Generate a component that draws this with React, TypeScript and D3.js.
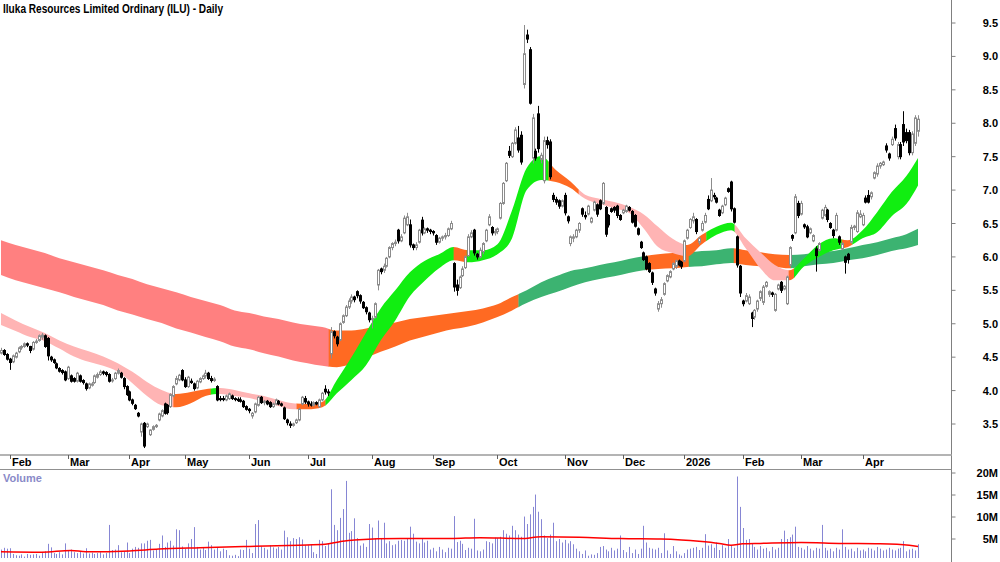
import * as d3 from "d3";

const title = "Iluka Resources Limited Ordinary (ILU) - Daily";

// one row per trading day: open, high, low, close
const candles: [number, number, number, number][] = [
  [4.56,4.64,4.54,4.60],[4.60,4.62,4.52,4.54],[4.54,4.56,4.45,4.47],[4.47,4.49,4.31,4.42],[4.43,4.54,4.41,4.52],
  [4.50,4.58,4.48,4.56],[4.58,4.66,4.56,4.64],[4.64,4.68,4.61,4.66],[4.66,4.72,4.64,4.70],[4.70,4.72,4.65,4.68],
  [4.66,4.67,4.56,4.60],[4.62,4.74,4.60,4.72],[4.72,4.77,4.70,4.74],[4.75,4.84,4.73,4.82],[4.80,4.86,4.76,4.83],
  [4.82,4.84,4.64,4.66],[4.78,4.80,4.45,4.52],[4.50,4.52,4.43,4.46],[4.46,4.48,4.40,4.42],[4.40,4.42,4.32,4.34],
  [4.33,4.35,4.27,4.29],[4.30,4.32,4.24,4.27],[4.28,4.30,4.14,4.16],[4.18,4.37,4.16,4.35],[4.22,4.24,4.12,4.14],
  [4.18,4.20,4.12,4.14],[4.14,4.28,4.12,4.26],[4.22,4.24,4.12,4.14],[4.15,4.17,4.09,4.12],[4.10,4.12,4.00,4.03],
  [4.04,4.12,4.02,4.10],[4.08,4.13,4.06,4.10],[4.12,4.24,4.10,4.22],[4.20,4.27,4.18,4.24],[4.24,4.31,4.22,4.28],
  [4.28,4.30,4.23,4.26],[4.27,4.29,4.21,4.24],[4.24,4.26,4.12,4.14],[4.15,4.19,4.12,4.16],[4.18,4.28,4.16,4.26],
  [4.26,4.33,4.24,4.30],[4.26,4.28,4.18,4.20],[4.18,4.20,4.02,4.06],[4.06,4.08,3.92,3.94],[3.98,4.00,3.84,3.86],
  [3.86,3.88,3.78,3.81],[3.78,3.80,3.71,3.73],[3.66,3.68,3.60,3.62],[3.38,3.52,3.31,3.50],[3.51,3.53,3.14,3.17],
  [3.46,3.52,3.44,3.50],[3.34,3.42,3.32,3.41],[3.42,3.48,3.40,3.46],[3.46,3.50,3.44,3.48],[3.56,3.67,3.54,3.65],
  [3.62,3.72,3.60,3.70],[3.80,3.82,3.64,3.66],[3.78,3.80,3.64,3.67],[3.76,3.96,3.74,3.94],[3.92,4.08,3.90,4.06],
  [4.10,4.22,4.08,4.18],[4.16,4.25,4.14,4.23],[4.30,4.32,4.14,4.16],[4.16,4.20,4.04,4.06],[4.06,4.22,4.04,4.20],
  [4.14,4.18,4.10,4.12],[4.10,4.12,4.00,4.03],[4.04,4.16,4.02,4.14],[4.13,4.20,4.11,4.18],[4.18,4.24,4.16,4.22],
  [4.22,4.31,4.18,4.26],[4.26,4.28,4.16,4.18],[4.18,4.22,4.12,4.15],[4.15,4.20,4.13,4.17],[4.06,4.08,3.84,3.86],
  [3.88,3.92,3.84,3.87],[3.88,3.92,3.84,3.87],[3.86,3.94,3.84,3.92],[3.88,3.97,3.86,3.95],[3.92,3.94,3.86,3.88],
  [3.88,3.90,3.84,3.87],[3.87,3.90,3.83,3.85],[3.86,3.90,3.82,3.84],[3.84,3.86,3.74,3.76],[3.76,3.78,3.70,3.72],
  [3.72,3.74,3.66,3.70],[3.62,3.68,3.58,3.66],[3.68,3.82,3.66,3.80],[3.78,3.92,3.76,3.90],[3.90,3.92,3.80,3.82],
  [3.82,3.86,3.78,3.84],[3.84,3.86,3.78,3.80],[3.82,3.84,3.74,3.76],[3.76,3.82,3.74,3.80],[3.80,3.88,3.78,3.86],
  [3.84,3.86,3.78,3.80],[3.80,3.82,3.76,3.78],[3.74,3.76,3.56,3.58],[3.56,3.58,3.48,3.52],[3.50,3.54,3.44,3.48],
  [3.48,3.52,3.46,3.50],[3.52,3.58,3.50,3.56],[3.56,3.74,3.54,3.72],[3.80,3.92,3.78,3.90],[3.88,3.92,3.80,3.83],
  [3.83,3.85,3.76,3.80],[3.80,3.84,3.76,3.78],[3.78,3.84,3.76,3.82],[3.82,3.84,3.78,3.80],[3.76,3.88,3.74,3.86],
  [3.86,3.98,3.84,3.96],[4.02,4.08,3.94,3.98],[3.98,4.02,3.92,3.97],[4.55,4.95,4.48,4.88],[4.88,4.90,4.78,4.82],
  [4.80,4.82,4.66,4.70],[4.76,5.02,4.74,5.00],[5.02,5.14,5.00,5.12],[5.12,5.28,5.10,5.25],[5.25,5.38,5.22,5.34],
  [5.34,5.44,5.30,5.40],[5.40,5.42,5.32,5.36],[5.48,5.50,5.38,5.42],[5.42,5.44,5.30,5.34],[5.32,5.34,5.22,5.24],
  [5.24,5.26,5.14,5.18],[5.16,5.18,5.02,5.06],[5.06,5.12,4.93,5.08],[5.10,5.32,5.08,5.30],[5.58,5.82,5.50,5.80],
  [5.82,5.84,5.74,5.78],[5.80,5.90,5.76,5.86],[5.86,6.00,5.84,5.98],[6.00,6.16,5.98,6.14],[6.14,6.22,6.10,6.20],
  [6.20,6.26,6.16,6.22],[6.40,6.42,6.20,6.24],[6.24,6.34,6.22,6.30],[6.36,6.62,6.34,6.58],[6.48,6.66,6.46,6.60],
  [6.48,6.56,6.14,6.18],[6.18,6.20,6.10,6.14],[6.14,6.22,6.10,6.18],[6.22,6.42,6.20,6.40],[6.55,6.60,6.32,6.36],
  [6.36,6.44,6.34,6.42],[6.42,6.44,6.36,6.40],[6.40,6.42,6.34,6.38],[6.38,6.40,6.32,6.36],[6.32,6.34,6.18,6.22],
  [6.22,6.30,6.20,6.28],[6.28,6.32,6.24,6.30],[6.30,6.36,6.26,6.32],[6.32,6.44,6.30,6.42],[6.42,6.54,6.40,6.50],
  [5.90,5.92,5.48,5.55],[5.58,5.66,5.42,5.50],[5.54,5.72,5.52,5.70],[5.72,5.86,5.70,5.82],[5.84,6.02,5.82,6.00],
  [6.02,6.34,6.00,6.30],[6.30,6.40,6.28,6.36],[6.40,6.42,6.02,6.06],[6.04,6.06,5.96,6.00],[6.00,6.14,5.98,6.10],
  [6.08,6.22,6.04,6.20],[6.24,6.42,6.22,6.40],[6.48,6.64,6.46,6.60],[6.44,6.46,6.32,6.36],[6.36,6.42,6.32,6.38],
  [6.38,6.44,6.34,6.42],[6.58,6.82,6.56,6.80],[6.80,7.12,6.78,7.10],[7.14,7.42,7.12,7.40],[7.58,7.66,7.48,7.52],
  [7.50,7.72,7.48,7.70],[7.70,7.94,7.68,7.90],[7.78,7.96,7.56,7.60],[7.82,7.88,7.38,7.42],[8.58,9.47,8.52,9.04],
  [9.32,9.40,9.20,9.26],[9.10,9.14,8.28,8.30],[7.48,8.14,7.40,8.08],[7.58,7.62,7.44,7.48],[8.14,8.26,7.56,7.62],
  [7.46,7.56,7.40,7.52],[7.14,7.80,7.10,7.74],[7.74,7.80,7.62,7.68],[7.72,7.76,7.16,7.20],[6.92,6.96,6.82,6.86],
  [6.86,6.90,6.78,6.82],[6.84,6.86,6.72,6.76],[6.76,6.86,6.74,6.84],[6.92,6.96,6.62,6.66],[6.60,6.62,6.50,6.54],
  [6.20,6.32,6.16,6.30],[6.28,6.34,6.22,6.30],[6.30,6.42,6.28,6.40],[6.40,6.52,6.36,6.50],[6.72,6.74,6.60,6.64],
  [6.62,6.68,6.56,6.60],[6.64,6.78,6.62,6.76],[6.52,6.60,6.50,6.58],[6.70,6.84,6.68,6.82],[6.78,6.80,6.60,6.64],
  [6.84,6.86,6.70,6.72],[6.80,7.12,6.78,7.10],[6.74,6.76,6.30,6.34],[6.62,6.64,6.44,6.48],[6.72,6.74,6.66,6.68],
  [6.74,6.76,6.66,6.70],[6.76,6.78,6.58,6.62],[6.62,6.64,6.54,6.56],[6.66,6.72,6.64,6.70],[6.68,6.78,6.66,6.76],
  [6.74,6.76,6.68,6.70],[6.68,6.70,6.50,6.52],[6.62,6.64,6.44,6.46],[6.42,6.44,6.32,6.34],[6.22,6.24,6.12,6.14],
  [6.06,6.08,5.94,5.96],[6.00,6.02,5.80,5.82],[5.90,5.92,5.76,5.78],[5.76,5.78,5.58,5.62],[5.52,5.54,5.42,5.46],
  [5.22,5.34,5.18,5.30],[5.30,5.40,5.24,5.36],[5.44,5.62,5.42,5.60],[5.64,5.74,5.62,5.72],[5.70,5.80,5.68,5.78],
  [5.82,5.92,5.80,5.90],[5.86,5.96,5.82,5.94],[5.94,5.96,5.86,5.88],[5.92,5.94,5.82,5.86],[5.94,6.26,5.92,6.24],
  [6.28,6.42,6.26,6.40],[6.44,6.58,6.42,6.56],[6.54,6.66,6.50,6.60],[6.56,6.58,6.34,6.38],[6.22,6.30,6.18,6.28],
  [6.40,6.54,6.38,6.50],[6.52,6.66,6.50,6.62],[6.86,6.92,6.70,6.72],[6.84,7.18,6.82,7.00],[6.92,6.96,6.86,6.90],
  [6.88,6.90,6.80,6.82],[6.70,6.72,6.60,6.62],[6.66,6.78,6.64,6.76],[6.78,6.90,6.76,6.88],[7.02,7.04,6.96,6.98],
  [7.12,7.14,6.68,6.72],[6.72,6.74,6.50,6.52],[6.30,6.32,5.84,5.88],[5.86,5.88,5.40,5.46],[5.34,5.36,5.26,5.30],
  [5.34,5.46,5.32,5.42],[5.30,5.44,5.28,5.40],[5.16,5.18,4.95,5.08],[5.10,5.22,5.06,5.20],[5.22,5.36,5.18,5.34],
  [5.38,5.50,5.34,5.48],[5.32,5.58,5.28,5.55],[5.56,5.64,5.54,5.62],[5.44,5.50,5.40,5.48],[5.46,5.48,5.40,5.44],
  [5.20,5.46,5.18,5.44],[5.52,5.60,5.50,5.58],[5.62,5.64,5.46,5.50],[5.52,5.58,5.50,5.56],[5.30,5.72,5.28,5.70],
  [5.88,6.16,5.86,6.14],[6.32,6.34,6.24,6.28],[6.36,6.94,6.34,6.90],[6.80,6.84,6.58,6.62],[6.64,6.84,6.62,6.80],
  [6.48,6.50,6.42,6.45],[6.45,6.48,6.28,6.30],[6.36,6.44,6.34,6.42],[6.24,6.34,6.22,6.32],[6.12,6.16,5.78,6.02],
  [6.10,6.22,6.08,6.20],[6.58,6.72,6.56,6.70],[6.62,6.78,6.60,6.74],[6.70,6.72,6.52,6.56],[6.50,6.52,6.42,6.44],
  [6.40,6.42,6.28,6.32],[6.40,6.66,6.38,6.62],[6.30,6.32,6.18,6.22],[6.12,6.22,6.10,6.20],[6.00,6.02,5.75,5.92],
  [6.04,6.06,5.90,5.96],[6.22,6.48,6.20,6.44],[6.44,6.48,6.40,6.46],[6.38,6.70,6.36,6.66],[6.60,6.70,6.58,6.64],
  [6.48,6.66,6.46,6.62],[6.88,6.92,6.80,6.82],[6.92,7.00,6.80,6.82],[6.90,6.98,6.86,6.96],[7.18,7.28,7.16,7.26],
  [7.24,7.40,7.20,7.36],[7.36,7.42,7.32,7.40],[7.38,7.44,7.36,7.42],[7.66,7.70,7.56,7.60],[7.54,7.56,7.44,7.48],
  [7.68,7.80,7.66,7.76],[7.92,7.98,7.74,7.78],[7.50,7.72,7.46,7.68],[7.68,7.72,7.46,7.50],[7.98,8.18,7.66,7.72],
  [7.86,7.92,7.70,7.74],[7.86,7.90,7.52,7.56],[7.56,7.88,7.52,7.84],[7.70,8.12,7.66,8.08],[7.88,8.12,7.80,8.06],
];

// daily volume, millions of shares
const volume = [
  2.6,3.0,2.8,2.9,1.6,1.3,1.2,1.5,1.0,1.6, 1.4,1.5,1.6,1.2,1.8,2.2,3.9,3.1,1.8,1.6,
  2.0,1.5,4.0,2.4,2.6,2.0,1.8,2.2,1.7,2.9, 1.7,1.9,1.6,1.8,2.0,1.5,1.8,8.2,2.5,2.6,
  3.6,2.0,2.2,4.2,1.8,2.8,3.2,3.0,4.0,4.0, 4.6,4.8,2.4,2.6,3.9,5.8,3.2,4.2,4.6,3.5,
  7.2,7.0,3.3,2.8,4.0,5.0,7.7,3.2,2.6,3.0, 2.5,4.4,3.6,2.6,3.0,2.2,2.8,2.5,1.3,1.2,
  1.4,1.1,2.6,2.5,4.8,2.8,1.8,8.4,9.3,3.3, 3.0,2.6,3.6,3.1,2.8,3.2,2.6,6.9,5.4,4.5,
  5.2,5.0,5.4,4.9,3.6,3.6,3.8,2.0,1.6,4.8, 4.5,3.4,4.0,16.3,8.2,7.0,9.8,11.8,18.2,6.4,
  6.8,9.7,5.2,3.5,4.0,3.2,8.4,7.6,5.2,9.2, 5.2,8.7,4.0,4.5,3.6,3.8,4.6,4.8,4.6,5.0,
  7.8,6.2,4.4,4.0,5.0,4.2,4.6,2.6,3.0,2.2, 3.2,2.6,2.0,3.0,2.8,10.2,4.3,4.6,3.9,2.5,
  3.0,2.8,9.6,2.4,2.2,2.6,4.5,4.3,4.0,5.3, 5.2,5.5,7.0,6.2,5.8,8.0,7.0,6.0,5.5,10.1,
  8.4,10.6,12.3,15.1,11.2,9.5,5.8,5.2,6.0,8.7, 4.5,5.0,4.2,4.8,4.0,4.5,3.8,2.8,2.2,1.6,
  2.4,1.2,1.5,1.4,1.8,3.2,3.4,2.6,2.2,3.0, 2.4,2.8,5.8,2.5,2.0,3.2,1.8,2.6,1.6,2.8,
  8.0,4.2,3.0,2.8,2.6,3.0,1.8,6.3,2.4,1.6, 3.4,2.2,1.5,1.2,1.8,2.6,2.8,3.0,3.2,2.5,
  3.0,6.1,3.5,3.8,3.0,4.2,2.5,3.6,3.0,5.0, 3.5,3.0,19.2,12.3,7.5,4.8,5.0,4.0,3.2,2.6,
  3.4,2.8,3.0,2.2,3.2,2.6,3.0,5.0,6.9,5.0, 5.4,6.0,7.8,3.2,3.0,2.6,3.4,2.8,2.4,3.0,
  2.8,8.2,3.0,2.4,2.8,2.2,3.0,2.6,7.2,3.2, 2.6,2.8,2.2,3.0,2.4,2.6,2.2,3.0,2.8,2.4,
  3.2,2.8,2.4,2.6,3.0,2.6,2.4,2.8,3.0,4.5, 2.2,2.6,2.8,2.4,3.8,
];

// volume moving average, read at these trading days
const volMaDays = [0,14,24,29,44,54,68,85,102,111,116,121,137,154,164,178,185,198,212,226,233,239,246,250,254,260,274,287,301,311,314];
const volMa = [2.1,2.0,2.4,2.1,2.3,2.7,3.0,3.3,3.6,3.8,4.4,4.8,5.1,5.1,5.3,5.1,5.5,5.4,5.1,5.0,4.8,4.5,4.0,3.6,3.9,4.0,4.2,4.0,3.9,3.6,3.3];

// moving average ribbons, read every 5 trading days (last one on the final day)
const bandDays = [...d3.range(0, 315, 5), 314];
const shortTop = [5.16,5.05,4.95,4.86,4.75,4.66,4.59,4.51,4.41,4.28,4.13,4.01,3.95,3.98,4.02,4.04,4.01,3.96,3.92,3.86,3.81,3.80,3.83,4.16,4.50,4.87,5.23,5.50,5.77,5.94,6.04,6.15,6.10,6.10,6.19,6.70,7.33,7.51,7.30,7.13,6.93,6.87,6.82,6.75,6.64,6.45,6.27,6.18,6.33,6.45,6.51,6.28,6.07,5.88,5.80,5.98,6.19,6.28,6.25,6.40,6.67,6.97,7.21,7.48];
const shortBottom = [4.98,4.89,4.80,4.74,4.63,4.51,4.43,4.37,4.28,4.11,3.92,3.78,3.75,3.81,3.92,3.95,3.92,3.89,3.83,3.77,3.72,3.72,3.75,3.96,4.16,4.38,4.75,5.05,5.41,5.64,5.83,5.95,5.92,5.95,6.04,6.28,7.00,7.15,7.12,7.03,6.87,6.79,6.73,6.66,6.43,6.15,6.06,6.01,6.19,6.33,6.40,6.13,5.83,5.65,5.65,5.86,6.00,6.10,6.15,6.28,6.37,6.61,6.79,7.07];
const longTop = [6.25,6.18,6.12,6.06,5.98,5.92,5.86,5.80,5.73,5.67,5.59,5.53,5.47,5.40,5.34,5.28,5.20,5.16,5.11,5.07,5.02,4.98,4.95,4.90,4.90,4.93,4.98,5.02,5.07,5.10,5.13,5.16,5.19,5.23,5.29,5.40,5.50,5.62,5.71,5.79,5.83,5.88,5.92,5.97,6.01,6.04,6.06,6.07,6.09,6.10,6.13,6.10,6.07,6.04,6.03,6.04,6.07,6.09,6.13,6.18,6.22,6.28,6.34,6.42];
const longBottom = [5.73,5.65,5.59,5.53,5.47,5.40,5.34,5.28,5.20,5.14,5.07,5.01,4.93,4.87,4.80,4.74,4.66,4.62,4.56,4.51,4.45,4.41,4.37,4.35,4.40,4.49,4.58,4.66,4.75,4.81,4.87,4.92,4.96,5.02,5.10,5.20,5.31,5.40,5.47,5.55,5.62,5.67,5.71,5.76,5.80,5.82,5.83,5.85,5.86,5.89,5.91,5.88,5.86,5.85,5.83,5.86,5.89,5.91,5.95,5.98,6.03,6.09,6.13,6.18];

const PINK = "#ffb4b4";
const RED = "#ff8080";
const ORANGE = "#ff6a22";
const LIME = "#11ee11";
const SEA = "#3cb371";

// colour of each ribbon, by trading-day range
const shortColours = [
  { from: 0, to: 59.5, colour: PINK }, { from: 59.5, to: 72.3, colour: ORANGE },
  { from: 72.3, to: 74.3, colour: LIME }, { from: 74.3, to: 101.7, colour: PINK },
  { from: 101.7, to: 111.6, colour: ORANGE }, { from: 111.6, to: 155.5, colour: LIME },
  { from: 155.5, to: 160, colour: ORANGE }, { from: 160, to: 188, colour: LIME },
  { from: 188, to: 198.3, colour: ORANGE }, { from: 198.3, to: 235, colour: PINK },
  { from: 235, to: 242, colour: ORANGE }, { from: 242, to: 251.7, colour: LIME },
  { from: 251.7, to: 270.2, colour: PINK }, { from: 270.2, to: 272, colour: ORANGE },
  { from: 272, to: 288.4, colour: LIME }, { from: 288.4, to: 292, colour: ORANGE },
  { from: 292, to: 315, colour: LIME },
];
const longColours = [
  { from: 0, to: 112.7, colour: RED }, { from: 112.7, to: 177.7, colour: ORANGE },
  { from: 177.7, to: 221.2, colour: SEA }, { from: 221.2, to: 236, colour: ORANGE },
  { from: 236, to: 251.4, colour: SEA }, { from: 251.4, to: 270.9, colour: ORANGE },
  { from: 270.9, to: 315, colour: SEA },
];

const months = [
  { label: "Feb", day: 3 }, { label: "Mar", day: 23 }, { label: "Apr", day: 44 },
  { label: "May", day: 63 }, { label: "Jun", day: 85 }, { label: "Jul", day: 105 },
  { label: "Aug", day: 127 }, { label: "Sep", day: 148 }, { label: "Oct", day: 170 },
  { label: "Nov", day: 193 }, { label: "Dec", day: 213 }, { label: "2026", day: 234 },
  { label: "Feb", day: 254 }, { label: "Mar", day: 274 }, { label: "Apr", day: 295 },
];

const priceTicks = [3.5, 4.0, 4.5, 5.0, 5.5, 6.0, 6.5, 7.0, 7.5, 8.0, 8.5, 9.0, 9.5];
const volumeTicks = [5, 10, 15, 20];

const FONT = "'Liberation Sans', Arial, sans-serif";

export default function App() {
  const width = 1000;
  const height = 562;
  const axisX = 951.5;
  const priceBottom = 455;

  const x = d3.scaleLinear().domain([0, candles.length - 1]).range([1, 918]);
  const y = d3.scaleLinear().domain([3.5, 9.5]).range([424, 23]);
  const yv = d3.scaleLinear().domain([0, 20]).range([561, 473]);

  const ribbon = (top: number[], bottom: number[]) =>
    d3
      .area<number>()
      .x((d) => x(d))
      .y0((_, k) => y(bottom[k]))
      .y1((_, k) => y(top[k]))
      .curve(d3.curveMonotoneX)(bandDays) ?? "";

  const shortPath = ribbon(shortTop, shortBottom);
  const longPath = ribbon(longTop, longBottom);

  const maLine =
    d3
      .line<number>()
      .x((d) => x(d))
      .y((_, k) => yv(volMa[k]))
      .curve(d3.curveMonotoneX)(volMaDays) ?? "";

  const segX = (d: number) => x(d) - 1.46;

  return (
    <svg
      width={width}
      height={height}
      style={{ position: "absolute", left: 0, top: 0, background: "#fff" }}
      fontFamily={FONT}
    >
      <defs>
        {longColours.map((s, k) => (
          <clipPath id={`lc${k}`} key={`lc${k}`}>
            <rect x={segX(s.from)} y={0} width={segX(s.to) - segX(s.from) + 0.3} height={priceBottom} />
          </clipPath>
        ))}
        {shortColours.map((s, k) => (
          <clipPath id={`sc${k}`} key={`sc${k}`}>
            <rect x={segX(s.from)} y={0} width={segX(s.to) - segX(s.from) + 0.3} height={priceBottom} />
          </clipPath>
        ))}
      </defs>

      {/* ribbons */}
      {longColours.map((s, k) => (
        <path key={`l${k}`} d={longPath} fill={s.colour} clipPath={`url(#lc${k})`} />
      ))}
      {shortColours.map((s, k) => (
        <path key={`s${k}`} d={shortPath} fill={s.colour} clipPath={`url(#sc${k})`} />
      ))}

      {/* candles */}
      {candles.map(([o, h, l, c], i) => {
        const cx = Math.round(x(i));
        const up = c >= o;
        const top = y(Math.max(o, c));
        const bot = y(Math.min(o, c));
        const col = up ? "#8c8c8c" : "#000";
        return (
          <g key={i}>
            <line x1={cx + 0.5} x2={cx + 0.5} y1={y(h)} y2={y(l)} stroke={col} />
            <rect
              x={cx - 0.5}
              y={top}
              width={2}
              height={Math.max(bot - top, 1)}
              fill={up ? "#fff" : "#000"}
              stroke={col}
            />
          </g>
        );
      })}

      {/* title */}
      <text x={3} y={13} fontSize={12} fontWeight="bold" textLength={220} lengthAdjust="spacingAndGlyphs">
        {title}
      </text>

      {/* price axis */}
      <line x1={axisX} x2={axisX} y1={0} y2={height} stroke="#808080" />
      {priceTicks.map((t) => (
        <g key={t}>
          <line x1={axisX} x2={axisX + 4} y1={y(t)} y2={y(t)} stroke="#808080" />
          <text x={998} y={y(t) + 4} fontSize={11} fontWeight="bold" textAnchor="end">
            {t.toFixed(1)}
          </text>
        </g>
      ))}

      {/* date axis */}
      <rect x={0} y={priceBottom - 1} width={axisX} height={2} fill="#b4b4b4" />
      <line x1={0} x2={axisX} y1={469.5} y2={469.5} stroke="#909090" />
      {months.map((m, k) => (
        <g key={k}>
          <line x1={Math.round(x(m.day)) + 0.5} x2={Math.round(x(m.day)) + 0.5} y1={priceBottom} y2={459} stroke="#606060" />
          <text x={Math.round(x(m.day)) + 2} y={466} fontSize={11} fontWeight="bold">
            {m.label}
          </text>
        </g>
      ))}

      {/* volume */}
      <text x={3} y={482} fontSize={11} fontWeight="bold" fill="#8a8ac8">
        Volume
      </text>
      {volume.map((v, i) => {
        const cx = Math.round(x(i)) + 0.5;
        return <line key={i} x1={cx} x2={cx} y1={yv(v)} y2={558} stroke="#8686d4" />;
      })}
      <path d={maLine} fill="none" stroke="#ff0000" strokeWidth={1.5} />
      {volumeTicks.map((t) => (
        <g key={t}>
          <line x1={axisX} x2={axisX + 4} y1={yv(t)} y2={yv(t)} stroke="#808080" />
          <text x={998} y={yv(t) + 4} fontSize={11} fontWeight="bold" textAnchor="end">
            {`${t}M`}
          </text>
        </g>
      ))}
    </svg>
  );
}
